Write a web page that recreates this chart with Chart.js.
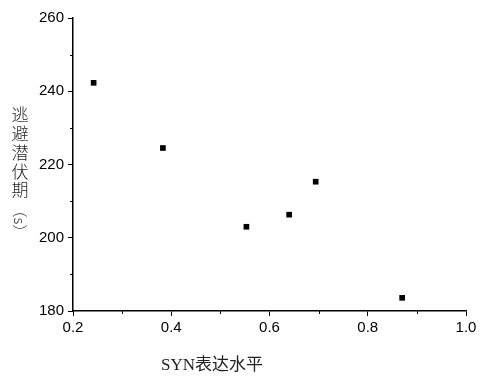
<!DOCTYPE html>
<html>
<head>
<meta charset="utf-8">
<script src="https://cdn.jsdelivr.net/npm/chart.js@4.4.1/dist/chart.umd.min.js"></script>
<style>
  html, body { margin: 0; padding: 0; background: #fff; }
  #wrap { width: 481px; height: 376px; }
</style>
</head>
<body>
<div id="wrap"><canvas id="scatterChart"></canvas></div>
<script>
// SYN表达水平 vs 逃避潜伏期
var synLevel = [0.242, 0.383, 0.553, 0.640, 0.694, 0.870];
var latency = [242.3, 224.5, 203.0, 206.3, 215.3, 183.6];

var xTicks = [0.2, 0.4, 0.6, 0.8, 1.0];
var yTicks = [180, 200, 220, 240, 260];
var xMinorTicks = [0.3, 0.5, 0.7, 0.9];
var yMinorTicks = [190, 210, 230, 250];

var xTitle = 'SYN表达水平';
var yTitleChars = ['逃', '避', '潜', '伏', '期'];
var yTitleUnit = '（s）';

var points = synLevel.map(function (x, i) { return { x: x, y: latency[i] }; });

var axisTitles = {
    id: 'axisTitles',
    afterDraw: function (chart) {
        var c = chart.ctx;
        var xs = chart.scales.x, ys = chart.scales.y;
        c.save();
        c.strokeStyle = '#000';
        c.lineWidth = 1;
        // minor ticks
        c.beginPath();
        yMinorTicks.forEach(function (v) {
            var p = Math.round(ys.getPixelForValue(v)) + 0.5;
            c.moveTo(chart.chartArea.left - 3, p);
            c.lineTo(chart.chartArea.left, p);
        });
        xMinorTicks.forEach(function (v) {
            var p = Math.round(xs.getPixelForValue(v)) + 0.5;
            c.moveTo(p, chart.chartArea.bottom);
            c.lineTo(p, chart.chartArea.bottom + 3);
        });
        c.stroke();

        // x title
        c.fillStyle = '#222';
        c.textAlign = 'center';
        c.textBaseline = 'middle';
        c.font = '17px "Liberation Serif", "Noto Sans CJK SC"';
        c.fillText(xTitle, 212, 366);

        // y title, stacked
        c.font = '300 17px "Noto Sans CJK SC"';
        yTitleChars.forEach(function (ch, i) {
            c.fillText(ch, 20, 115 + i * 18.7);
        });
        c.translate(20, 221);
        c.rotate(Math.PI / 2);
        c.font = '300 15px "Noto Sans CJK SC"';
        c.fillText(yTitleUnit, 0, 0);
        c.restore();
    }
};

var ctx = document.getElementById('scatterChart').getContext('2d');
var scatterChart = new Chart(ctx, {
    type: 'scatter',
    data: {
        datasets: [{
            data: points,
            pointStyle: 'rect',
            pointRadius: 4,
            pointBorderWidth: 0,
            backgroundColor: '#000',
            borderColor: '#000'
        }]
    },
    options: {
        responsive: true,
        maintainAspectRatio: false,
        animation: false,
        layout: {
            padding: { top: 18, right: 15, left: 0, bottom: 0 }
        },
        plugins: {
            legend: { display: false },
            tooltip: { enabled: false }
        },
        scales: {
            x: {
                type: 'linear',
                min: 0.2,
                max: 1.0,
                afterBuildTicks: function (s) {
                    s.ticks = xTicks.map(function (v) { return { value: v }; });
                },
                afterFit: function (s) { s.height = 65; },
                border: { display: true, color: '#000', width: 1.5 },
                grid: { drawOnChartArea: false, tickLength: 5, tickColor: '#000' },
                ticks: {
                    color: '#000',
                    padding: 3,
                    font: { family: '"Liberation Sans", Arial', size: 15 },
                    callback: function (v) { return Number(v).toFixed(1); }
                }
            },
            y: {
                type: 'linear',
                min: 180,
                max: 260,
                afterBuildTicks: function (s) {
                    s.ticks = yTicks.map(function (v) { return { value: v }; });
                },
                afterFit: function (s) { s.width = 73; },
                border: { display: true, color: '#000', width: 1.5 },
                grid: { drawOnChartArea: false, tickLength: 5, tickColor: '#000' },
                ticks: {
                    color: '#000',
                    padding: 4,
                    font: { family: '"Liberation Sans", Arial', size: 15 }
                }
            }
        }
    },
    plugins: [axisTitles]
});
</script>
</body>
</html>
